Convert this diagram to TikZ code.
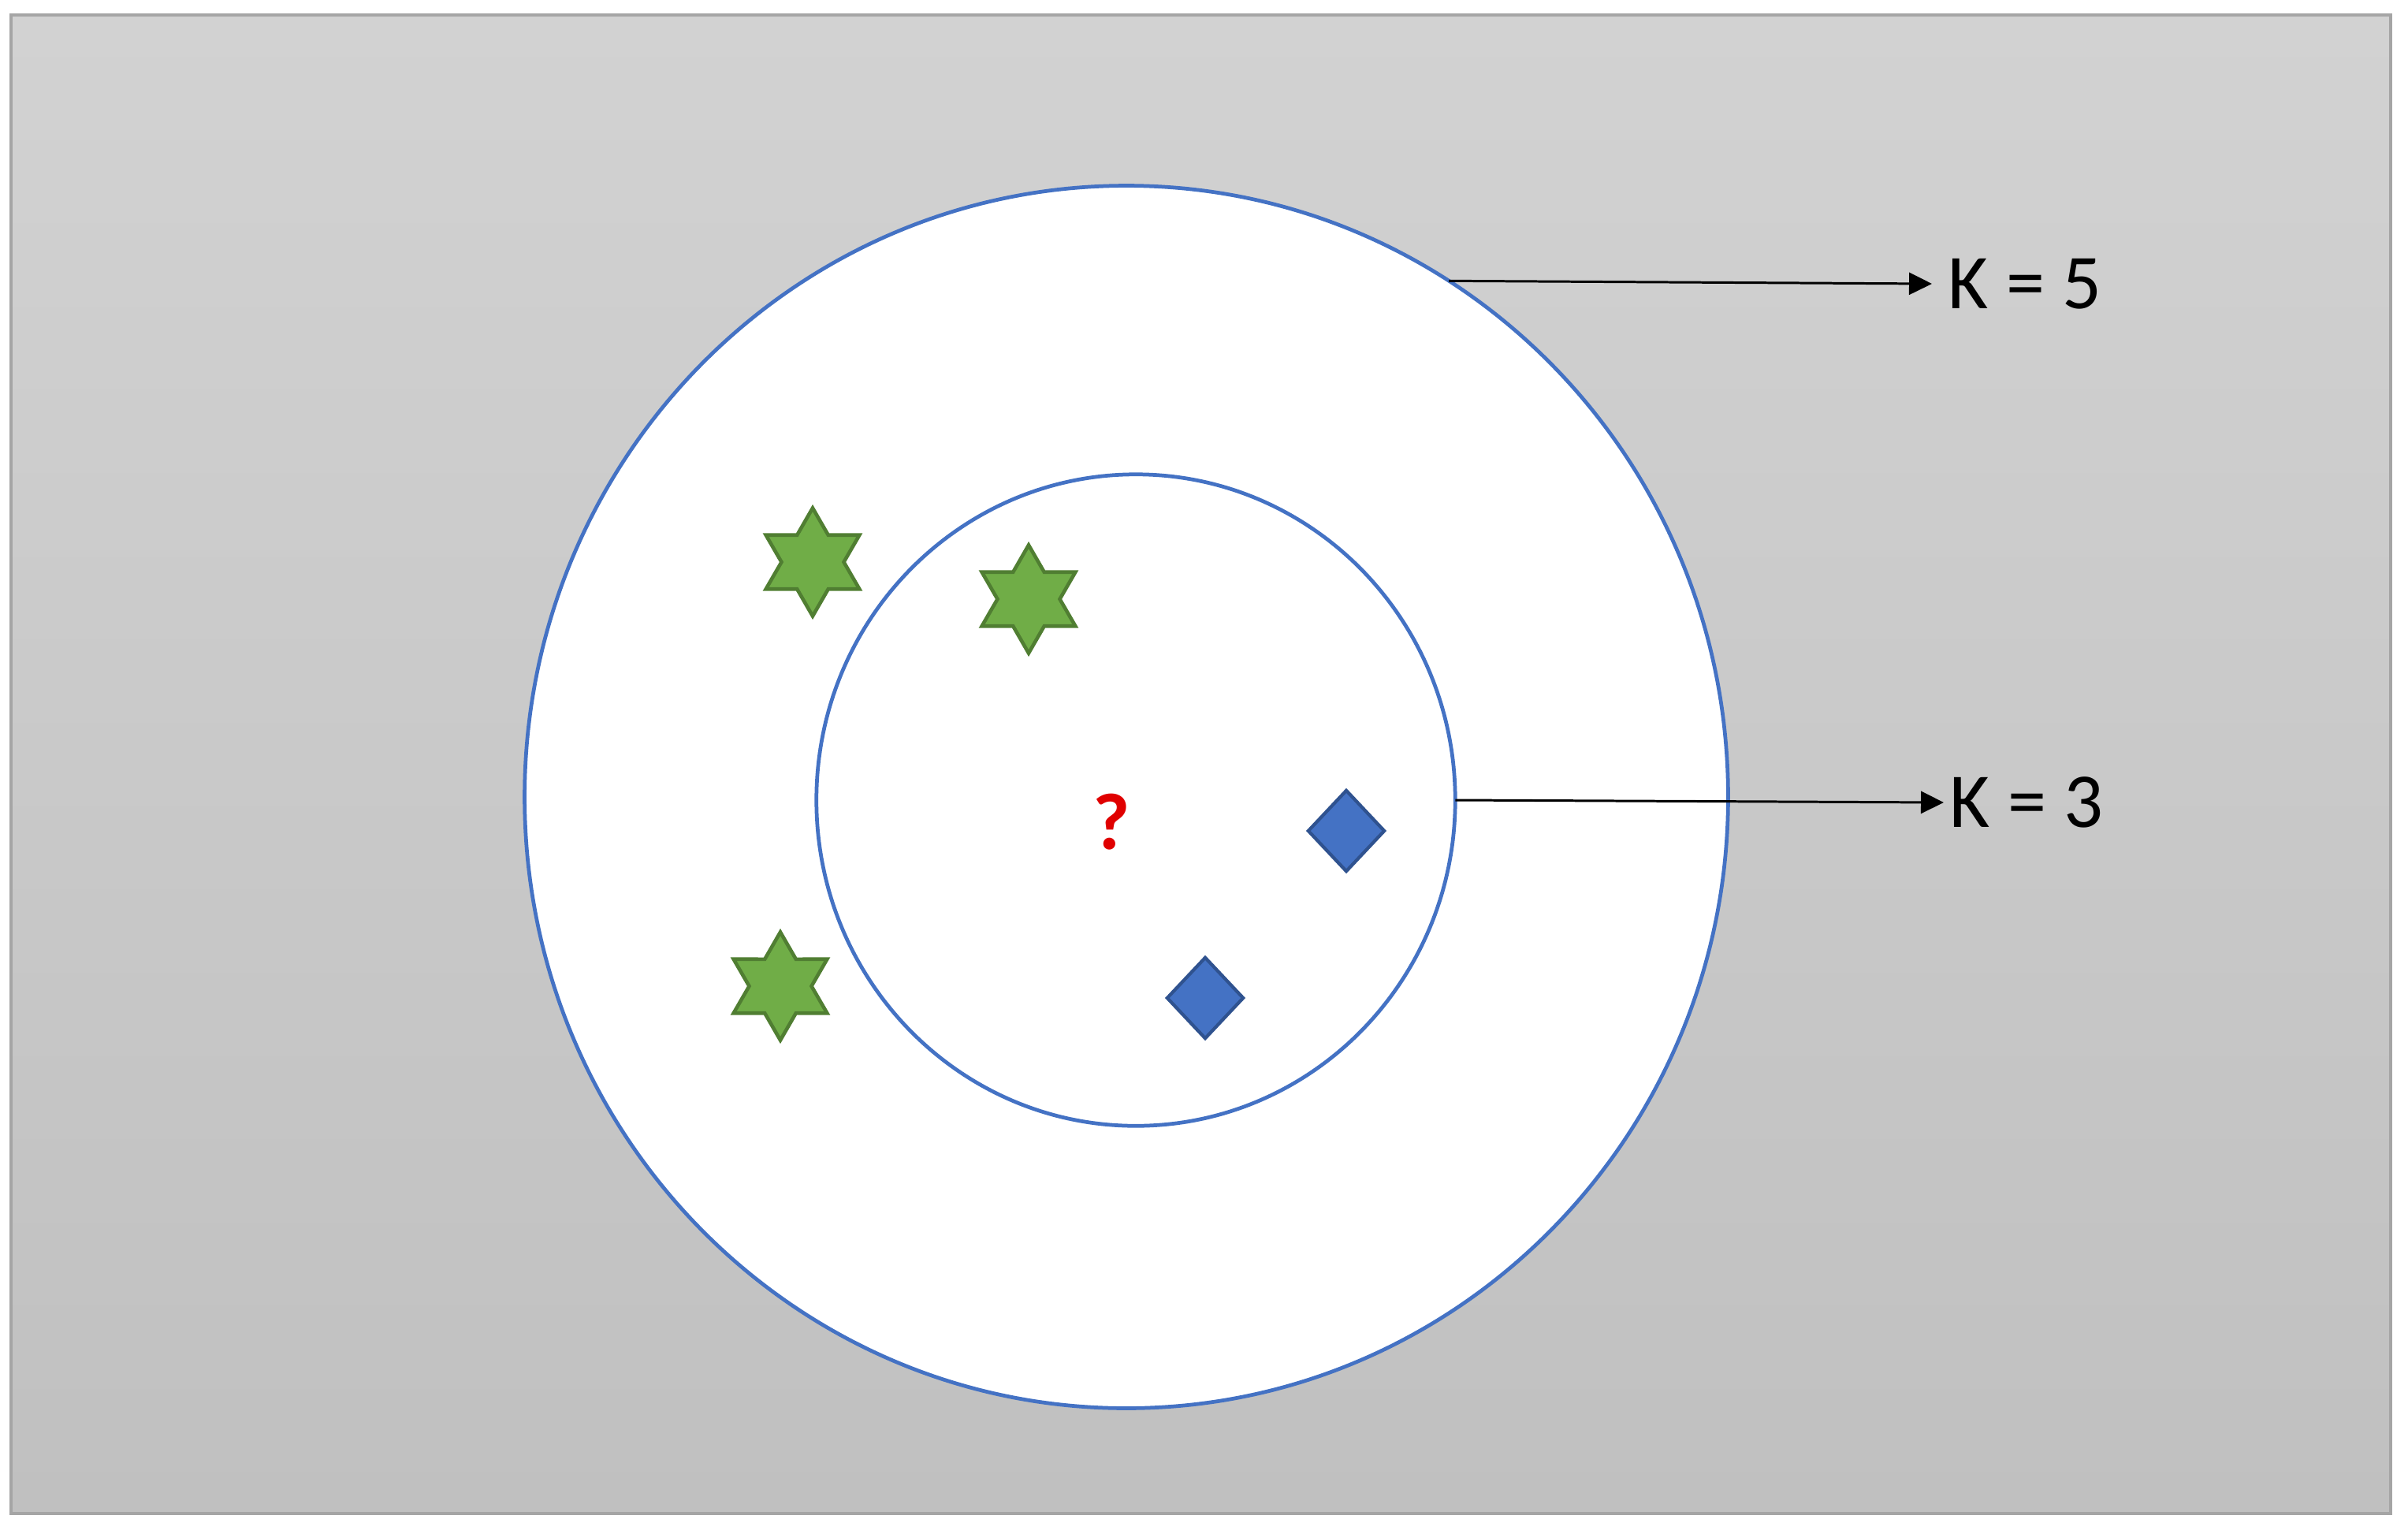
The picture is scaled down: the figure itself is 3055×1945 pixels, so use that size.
\documentclass[tikz,border=0pt]{standalone}
\usepackage{fontspec}
\setmainfont{Carlito}
\usetikzlibrary{shapes.geometric,arrows.meta}
\definecolor{bgtop}{HTML}{D2D2D2}
\definecolor{bgbot}{HTML}{C0C0C0}
\definecolor{framegray}{HTML}{A5A5A5}
\definecolor{ringblue}{HTML}{4472C4}
\definecolor{stargreen}{HTML}{70AD47}
\definecolor{stardark}{HTML}{507E32}
\definecolor{diafill}{HTML}{4472C4}
\definecolor{diadark}{HTML}{2F528F}
\definecolor{qred}{HTML}{E00000}
\newcommand\hexpath{(90:0.685cm) -- (60:0.395cm) -- (30:0.685cm) -- (0:0.395cm) -- (-30:0.685cm) -- (-60:0.395cm) -- (-90:0.685cm) -- (-120:0.395cm) -- (-150:0.685cm) -- (180:0.395cm) -- (150:0.685cm) -- (120:0.395cm) -- cycle}
\begin{document}
\begin{tikzpicture}[x=0.01cm,y=-0.01cm,
  ring/.style={ellipse,draw=ringblue,line width=1.35pt,fill=white,inner sep=0pt,outer sep=0pt},
  hexfill/.style={fill=stargreen,draw=stardark,line width=1.3pt,line join=miter},
  gem/.style={diamond,minimum width=0.98cm,minimum height=1.04cm,inner sep=0pt,fill=diafill,draw=diadark,line width=1.2pt},
  klabel/.style={anchor=west,inner ysep=0pt,font=\fontsize{28}{30}\selectfont},
  pointer/.style={-{Triangle[length=0.29cm,width=0.28cm]},line width=0.85pt}]
\useasboundingbox (0,0) rectangle (3055,1945);
\shade[top color=bgtop,bottom color=bgbot] (14,19) rectangle (3033,1920);
\draw[framegray,line width=1.2pt] (14,19) rectangle (3033,1920);

\node[ring,minimum width=15.26cm,minimum height=15.5cm] (outer) at (1429,1011) {};
\node[ring,minimum width=8.1cm,minimum height=8.26cm] (inner) at (1441,1015) {};

\coordinate (s1) at (1031,713);
\coordinate (s2) at (1305,760);
\coordinate (s3) at (990,1251);
\draw[hexfill,shift={(s1)}] \hexpath;
\draw[hexfill,shift={(s2)}] \hexpath;
\draw[hexfill,shift={(s3)}] \hexpath;

\node[gem] (d1) at (1708,1054) {};
\node[gem] (d2) at (1529,1266) {};

\node[text=qred,font=\bfseries\fontsize{29}{31}\selectfont,inner sep=0pt] (q) at (1410,1043) {?};

\node[klabel,inner xsep=0.2cm] (k5) at (2451,360) {K = 5};
\node[klabel,inner xsep=0.07cm] (k3) at (2466,1018) {K = 3};

\draw[pointer] (outer.58.2) -- (k5.west);
\draw[pointer] (inner.0) -- (k3.west);
\end{tikzpicture}
\end{document}
